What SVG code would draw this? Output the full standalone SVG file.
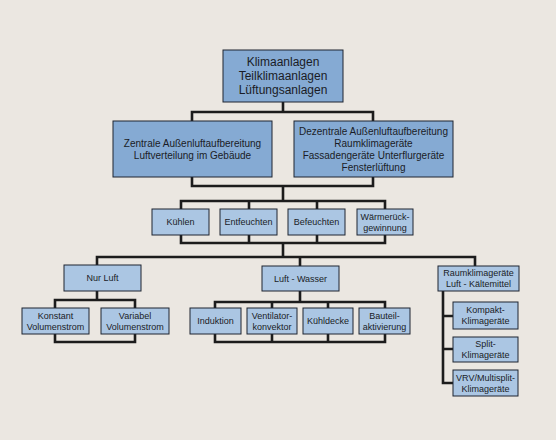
<svg xmlns="http://www.w3.org/2000/svg" width="556" height="440" viewBox="0 0 556 440">
<style>
.bg{fill:#ebe7e1}
.b1{fill:#85aad3;stroke:#1e2430;stroke-width:1}
.b2{fill:#abc6e3;stroke:#1e2430;stroke-width:1}
.c{fill:none;stroke:#1c1c1c;stroke-width:2.6;stroke-linejoin:miter;stroke-linecap:butt}
text{font-family:"Liberation Sans",Arial,sans-serif;fill:#1a1c26;text-anchor:middle}
.t12{font-size:12px}
.t10{font-size:10px}
.t9{font-size:9px}
</style>
<rect class="bg" x="0" y="0" width="556" height="440"/>
<g id="connectors">
<path class="c" d="M283,102 V112 M192,121 V112 H373 V121"/>
<path class="c" d="M192,177 V186 H373 V177 M283,186 V201"/>
<path class="c" d="M181,209 V201 H385 V209 M249,201 V209 M317,201 V209"/>
<path class="c" d="M181,235 V243 H385 V235 M249,235 V243 M317,235 V243 M283,243 V257"/>
<path class="c" d="M97,265 V257 H475 V266 M300,257 V266"/>
<path class="c" d="M97,291 V300 M55,308 V300 H135 V308 M55,334 V342 H135 V334"/>
<path class="c" d="M300,291 V302 M215,308 V302 H385 V308 M272,302 V308 M328,302 V308"/>
<path class="c" d="M215,334 V342 H385 V334 M272,334 V342 M328,334 V342"/>
<path class="c" d="M443,291 V383 H453 M443,316 H453 M443,349 H453"/>
</g>
<g id="n-top">
<rect class="b1" x="223" y="50" width="120" height="52"/>
<text class="t12" x="283" y="66.3">Klimaanlagen</text>
<text class="t12" x="283" y="80.3">Teilklimaanlagen</text>
<text class="t12" x="283" y="94.3">Lüftungsanlagen</text>
</g>
<g id="n-zentral">
<rect class="b1" x="113" y="121" width="159" height="56"/>
<text class="t10" x="192.5" y="146.5">Zentrale Außenluftaufbereitung</text>
<text class="t10" x="192.5" y="158.5">Luftverteilung im Gebäude</text>
</g>
<g id="n-dezentral">
<rect class="b1" x="294" y="121" width="159" height="56"/>
<text class="t10" x="373.5" y="134.5">Dezentrale Außenluftaufbereitung</text>
<text class="t10" x="373.5" y="146.5">Raumklimageräte</text>
<text class="t10" x="373.5" y="158.5">Fassadengeräte Unterflurgeräte</text>
<text class="t10" x="373.5" y="170.5">Fensterlüftung</text>
</g>
<g id="n-kuehlen">
<rect class="b2" x="152" y="209" width="57" height="26"/>
<text class="t9" x="180.5" y="225.2">Kühlen</text>
</g>
<g id="n-entfeuchten">
<rect class="b2" x="220" y="209" width="57" height="26"/>
<text class="t9" x="248.5" y="225.2">Entfeuchten</text>
</g>
<g id="n-befeuchten">
<rect class="b2" x="288" y="209" width="57" height="26"/>
<text class="t9" x="316.5" y="225.2">Befeuchten</text>
</g>
<g id="n-waerme">
<rect class="b2" x="357" y="209" width="56" height="26"/>
<text class="t9" x="385" y="219.7">Wärmerück-</text>
<text class="t9" x="385" y="230.7">gewinnung</text>
</g>
<g id="n-nurluft">
<rect class="b2" x="64" y="265" width="77" height="26"/>
<text class="t9" x="102.5" y="281.2">Nur Luft</text>
</g>
<g id="n-luftwasser">
<rect class="b2" x="262" y="266" width="77" height="25"/>
<text class="t9" x="300.5" y="281.7">Luft - Wasser</text>
</g>
<g id="n-raumklima">
<rect class="b2" x="438" y="266" width="81" height="25"/>
<text class="t9" x="478.5" y="276">Raumklimageräte</text>
<text class="t9" x="478.5" y="287">Luft - Kältemittel</text>
</g>
<g id="n-konstant">
<rect class="b2" x="22" y="308" width="67" height="26"/>
<text class="t9" x="55.5" y="318.5">Konstant</text>
<text class="t9" x="55.5" y="329.5">Volumenstrom</text>
</g>
<g id="n-variabel">
<rect class="b2" x="101" y="308" width="68" height="26"/>
<text class="t9" x="135" y="318.5">Variabel</text>
<text class="t9" x="135" y="329.5">Volumenstrom</text>
</g>
<g id="n-induktion">
<rect class="b2" x="190" y="308" width="51" height="26"/>
<text class="t9" x="215.5" y="324.2">Induktion</text>
</g>
<g id="n-ventilator">
<rect class="b2" x="247" y="308" width="50" height="26"/>
<text class="t9" x="272" y="318.5">Ventilator-</text>
<text class="t9" x="272" y="329.5">konvektor</text>
</g>
<g id="n-kuehldecke">
<rect class="b2" x="303" y="308" width="50" height="26"/>
<text class="t9" x="328" y="324.2">Kühldecke</text>
</g>
<g id="n-bauteil">
<rect class="b2" x="359" y="308" width="51" height="26"/>
<text class="t9" x="384.5" y="318.5">Bauteil-</text>
<text class="t9" x="384.5" y="329.5">aktivierung</text>
</g>
<g id="n-kompakt">
<rect class="b2" x="453" y="302" width="65" height="27"/>
<text class="t9" x="485.5" y="313">Kompakt-</text>
<text class="t9" x="485.5" y="324">Klimageräte</text>
</g>
<g id="n-split">
<rect class="b2" x="453" y="337" width="65" height="25"/>
<text class="t9" x="485.5" y="347">Split-</text>
<text class="t9" x="485.5" y="358">Klimageräte</text>
</g>
<g id="n-vrv">
<rect class="b2" x="453" y="370" width="65" height="26"/>
<text class="t9" x="485.5" y="380.5">VRV/Multisplit-</text>
<text class="t9" x="485.5" y="391.5">Klimageräte</text>
</g>
</svg>
